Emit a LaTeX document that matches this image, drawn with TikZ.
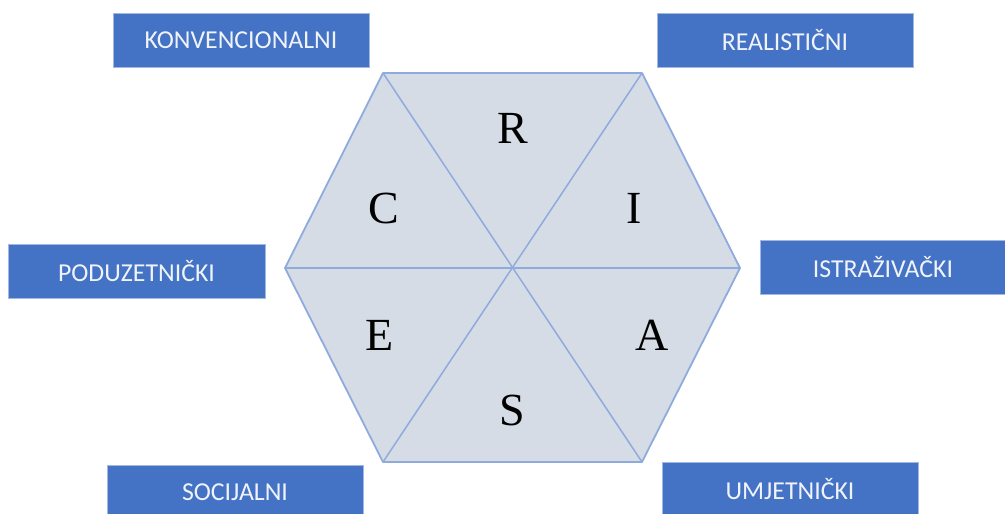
\documentclass[tikz,border=0pt]{standalone}
\usepackage{fontspec}
\setmainfont{Liberation Serif}
\newfontfamily\boxfont{Carlito}
\definecolor{boxblue}{HTML}{4472C4}
\definecolor{hexfill}{HTML}{D6DCE5}
\definecolor{hexline}{HTML}{8FAADC}
\tikzset{
  typebox/.style={fill=boxblue, draw=boxblue!50!white, line width=0.6pt,
    minimum width=256pt, minimum height=54pt, inner sep=0pt,
    text=white!92!boxblue, font=\boxfont\fontsize{25.8}{30}\selectfont},
  letter/.style={inner sep=0pt, font=\fontsize{46}{50}\selectfont},
}
\begin{document}
\begin{tikzpicture}[x=1pt,y=-1pt]
  \useasboundingbox (0,0) rectangle (1005,514);
  % hexagon corners
  \coordinate (c) at (512.5,268);
  \coordinate (h0) at (740,268);
  \coordinate (h1) at (642,73);
  \coordinate (h2) at (383,73);
  \coordinate (h3) at (285,268);
  \coordinate (h4) at (383,462);
  \coordinate (h5) at (642,462);
  \draw[hexline, line width=1.8pt, line join=round, fill=hexfill]
    (h0) -- (h1) -- (h2) -- (h3) -- (h4) -- (h5) -- cycle;
  \begin{scope}[hexline, line width=1.5pt]
    \draw (h0) to (h3);
    \draw (h1) to (h4);
    \draw (h2) to (h5);
  \end{scope}
  % letters
  \node[letter] (R) at (513,128) {R};
  \node[letter] (I) at (634,208) {I};
  \node[letter] (A) at (652,335) {A};
  \node[letter] (S) at (512,410) {S};
  \node[letter] (E) at (380,335) {E};
  \node[letter] (C) at (384,208) {C};
  % types
  \node[typebox] (konv) at (241,40) {KONVENCIONALNI};
  \node[typebox] (real) at (785,40) {REALISTIČNI};
  \node[typebox, minimum width=257pt] (podu) at (136.5,271) {PODUZETNIČKI};
  \node[typebox, minimum width=246pt] (istr) at (883,267) {ISTRAŽIVAČKI};
  \node[typebox] (soci) at (235,492) {SOCIJALNI};
  \node[typebox] (umje) at (790,489) {UMJETNIČKI};
\end{tikzpicture}
\end{document}
